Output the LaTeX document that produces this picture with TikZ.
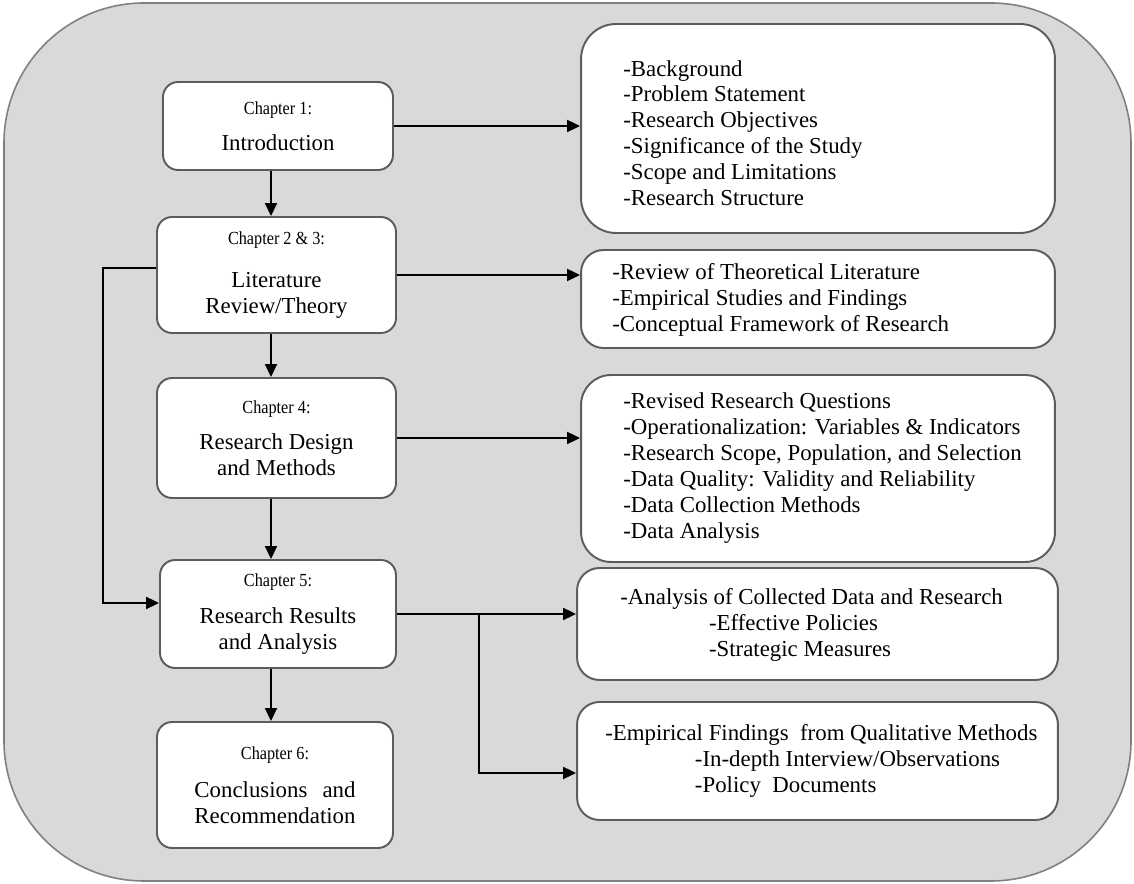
\documentclass[tikz,border=0pt]{standalone}
\usepackage{fontspec}
\setmainfont{Liberation Serif}
\newfontfamily\chapfont{Liberation Serif}[FakeStretch=0.88]
\usetikzlibrary{arrows.meta}
\definecolor{bggray}{HTML}{D9D9D9}
\definecolor{outergray}{HTML}{7F7F7F}
\definecolor{boxgray}{HTML}{5C5C5C}
\newcommand{\chapline}[1]{{\chapfont\fontsize{10.5}{14.74}\selectfont #1}}
\begin{document}
\begin{tikzpicture}[x=0.02cm,y=-0.02cm,
  font=\fontsize{13}{14.74}\selectfont,
  chapbox/.style={draw=boxgray, line width=1.1pt, fill=white, rounded corners=0.3cm,
    align=center, inner sep=0pt},
  listbox/.style={draw=boxgray, line width=1.1pt, fill=white, rounded corners=#1, inner sep=0pt},
  listtext/.style={anchor=west, align=left, inner sep=0pt},
  link/.style={line width=1.1pt},
  arr/.style={line width=1.1pt, -{Triangle[length=0.26cm,width=0.24cm]}},
]
\useasboundingbox (0,0) rectangle (1134,884);
% grey panel behind everything
\draw[draw=outergray, fill=bggray, line width=0.9pt, rounded corners=2.8cm] (4,3) rectangle (1131,881);

% chapter column
\node[chapbox, minimum width=4.6cm, minimum height=1.76cm] (ch1) at (278,126)
  {\chapline{Chapter 1:}\\[5.7pt] Introduction};
\node[chapbox, minimum width=4.78cm, minimum height=2.32cm] (ch2) at (276.5,275)
  {\chapline{Chapter 2 \& 3:}\\[10.2pt] Literature\\ Review/Theory};
\node[chapbox, minimum width=4.78cm, minimum height=2.4cm] (ch4) at (276.5,438)
  {\chapline{Chapter 4:}\\[5.7pt] Research Design\\ and Methods};
\node[chapbox, minimum width=4.72cm, minimum height=2.16cm] (ch5) at (278,614)
  {\chapline{Chapter 5:}\\[6.8pt] Research Results\\ and Analysis};
\node[chapbox, minimum width=4.72cm, minimum height=2.52cm] (ch6) at (275,785)
  {\chapline{Chapter 6:}\\[6.8pt] Conclusions\hspace{8.6pt}and\\ Recommendation};

% content boxes
\node[listbox=0.7cm, minimum width=9.48cm, minimum height=4.18cm] (r1) at (818,128.5) {};
\node[listbox=0.45cm, minimum width=9.48cm, minimum height=1.96cm] (r2) at (818,299) {};
\node[listbox=0.6cm, minimum width=9.48cm, minimum height=3.74cm] (r3) at (818,468.5) {};
\node[listbox=0.45cm, minimum width=9.62cm, minimum height=2.24cm] (r4) at (817.5,624) {};
\node[listbox=0.45cm, minimum width=9.62cm, minimum height=2.36cm] (r5) at (817.5,761) {};

\node[listtext] (t1) at (623,133) {-Background\\ -Problem Statement\\ -Research Objectives\\
  -Significance of the Study\\ -Scope and Limitations\\ -Research Structure};
\node[listtext] (t2) at (612,300) {-Review of Theoretical Literature\\
  -Empirical Studies and Findings\\ -Conceptual Framework of Research};
\node[listtext] (t3) at (623,468) {-Revised Research Questions\\
  -Operationalization: Variables \& Indicators\\
  -Research Scope, Population, and Selection\\
  -Data Quality: Validity and Reliability\\
  -Data Collection Methods\\ -Data Analysis};
\node[listtext] (t4) at (620,625) {-Analysis of Collected Data and Research\\
  \hspace*{50.5pt}-Effective Policies\\ \hspace*{50.5pt}-Strategic Measures};
\node[listtext] (t5) at (605,761) {-Empirical Findings\ \ from Qualitative Methods\\
  \hspace*{51pt}-In-depth Interview/Observations\\ \hspace*{51pt}-Policy\ \ Documents};

% flow down the chapters
\coordinate (ax) at (271,0);
\coordinate (fbx) at (103,0);
\coordinate (brx) at (479,0);
\draw[arr] (ch1.south -| ax) -- (ch2.north -| ax);
\draw[arr] (ch2.south -| ax) -- (ch4.north -| ax);
\draw[arr] (ch4.south -| ax) -- (ch5.north -| ax);
\draw[arr] (ch5.south -| ax) -- (ch6.north -| ax);

% from each chapter to its contents
\draw[arr] (ch1.east) -- (ch1.east -| r1.west);
\draw[arr] (ch2.east) -- (ch2.east -| r2.west);
\draw[arr] (ch4.east) -- (ch4.east -| r3.west);
\draw[arr] (ch5.east) -- (ch5.east -| r4.west);
\draw[arr] (ch5.east -| brx) -- ([yshift=-0.24cm]r5.west -| brx) -- ([yshift=-0.24cm]r5.west);

% literature feeds the results chapter
\draw[arr] ([yshift=0.14cm]ch2.west) -- ([yshift=0.14cm]ch2.west -| fbx)
  -- ([yshift=0.22cm]ch5.west -| fbx) -- ([yshift=0.22cm]ch5.west);
\end{tikzpicture}
\end{document}
